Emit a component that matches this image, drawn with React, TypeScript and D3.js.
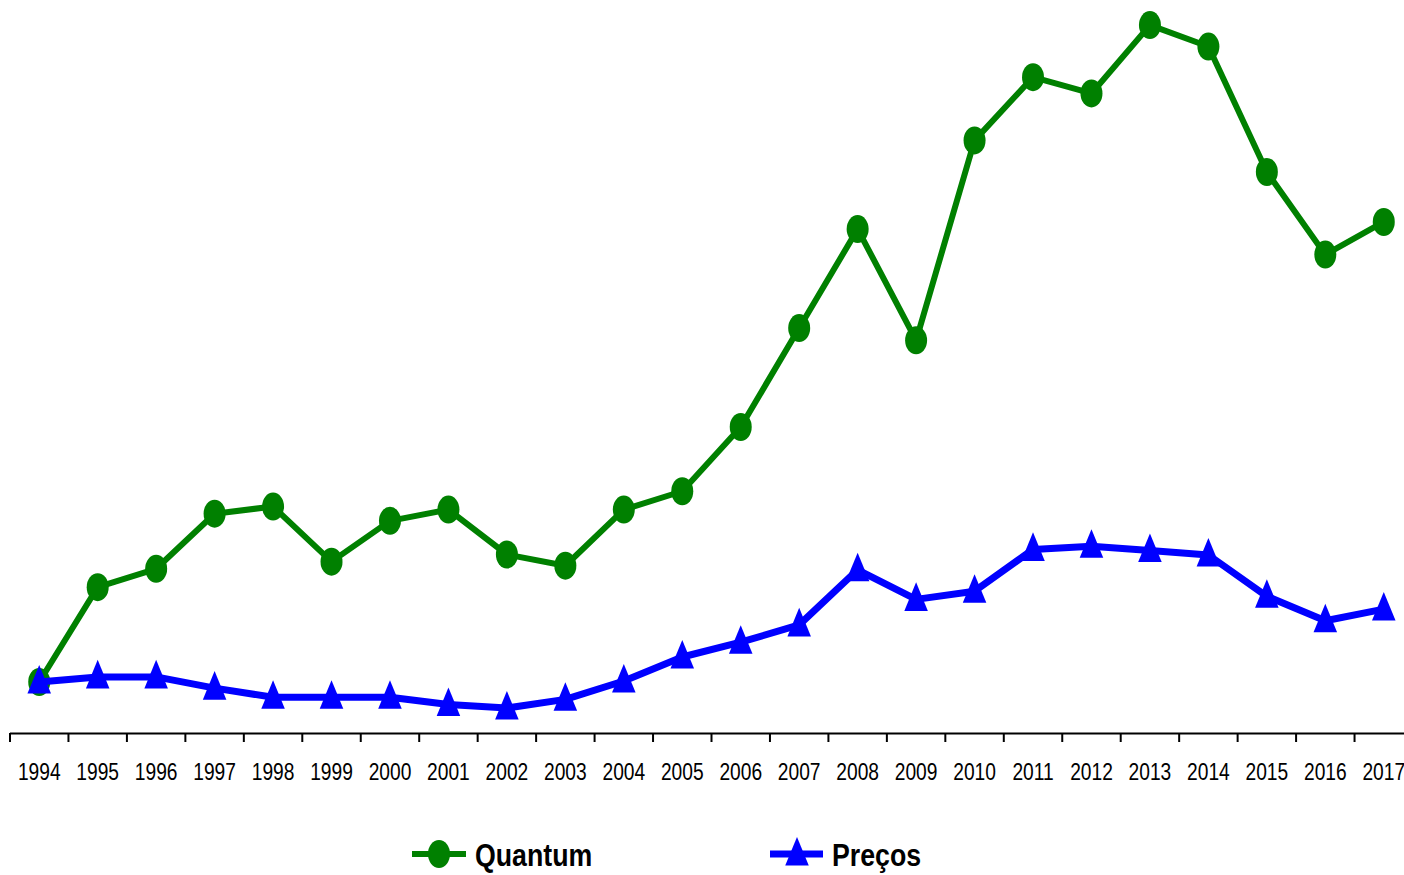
import React from "react";
import * as d3 from "d3";

// Annual index series (1994 = 100)
const years: string[] = [
  "1994", "1995", "1996", "1997", "1998", "1999", "2000", "2001",
  "2002", "2003", "2004", "2005", "2006", "2007", "2008", "2009",
  "2010", "2011", "2012", "2013", "2014", "2015", "2016", "2017",
];

const quantum: number[] = [
  100, 193, 211, 265, 272, 218, 258, 269, 225, 214, 269, 287,
  350, 447, 544, 435, 631, 693, 677, 744, 723, 600, 519, 551,
];

const precos: number[] = [
  100, 105, 105, 94, 85, 85, 85, 78, 74.5, 83, 101, 124.5,
  139, 156, 210, 181, 189, 230, 233, 229, 224.5, 184, 160, 171.5,
];

const W = 1404;
const H = 875;
const FONT = "'Liberation Sans', Arial, sans-serif";
const GREEN = "#008000";
const BLUE = "#0000FF";

export default function App() {
  const x = d3.scaleBand<string>().domain(years).range([10, 1413]).padding(0);
  const y = d3.scaleLinear().domain([50, 750]).range([733, 19]);
  const cx = (yr: string) => (x(yr) ?? 0) + x.bandwidth() / 2;

  const line = d3
    .line<number>()
    .x((_, i) => cx(years[i]))
    .y((v) => y(v));

  const tri = d3.symbol().type(d3.symbolTriangle).size(240)();

  return (
    <div style={{ position: "fixed", left: 0, top: 0, width: W, height: H, overflow: "hidden" }}>
      <svg width={W} height={H} style={{ display: "block", background: "#fff" }}>
        {/* category axis */}
        <line x1={10} x2={W} y1={733.5} y2={733.5} stroke="#000" strokeWidth={2} />
        {years.map((yr) => (
          <line
            key={"t" + yr}
            x1={x(yr) ?? 0}
            x2={x(yr) ?? 0}
            y1={733}
            y2={742}
            stroke="#000"
            strokeWidth={2}
          />
        ))}
        {years.map((yr) => (
          <text
            key={"l" + yr}
            transform={`translate(${cx(yr)},780) scale(0.8,1.03)`}
            textAnchor="middle"
            fontFamily={FONT}
            fontSize={24}
            fill="#000"
          >
            {yr}
          </text>
        ))}

        {/* Quantum series */}
        <path d={line(quantum) ?? ""} fill="none" stroke={GREEN} strokeWidth={6} strokeLinejoin="round" />
        {quantum.map((v, i) => (
          <ellipse key={"q" + i} cx={cx(years[i])} cy={y(v)} rx={11} ry={14} fill={GREEN} />
        ))}

        {/* Preços series */}
        <path d={line(precos) ?? ""} fill="none" stroke={BLUE} strokeWidth={7} strokeLinejoin="round" />
        {precos.map((v, i) => (
          <path
            key={"p" + i}
            d={tri ?? ""}
            transform={`translate(${cx(years[i])},${y(v) + 2}) scale(1,1.4)`}
            fill={BLUE}
          />
        ))}

        {/* legend */}
        <g>
          <line x1={412} x2={466} y1={854} y2={854} stroke={GREEN} strokeWidth={6} />
          <ellipse cx={439} cy={854} rx={11} ry={14} fill={GREEN} />
          <text
            transform="translate(475,866) scale(0.835,1)"
            fontFamily={FONT}
            fontSize={32}
            fontWeight="bold"
            fill="#000"
          >
            Quantum
          </text>
          <line x1={770} x2={823} y1={854} y2={854} stroke={BLUE} strokeWidth={7} />
          <path d={tri ?? ""} transform="translate(797,856) scale(1,1.4)" fill={BLUE} />
          <text
            transform="translate(832,866) scale(0.835,1)"
            fontFamily={FONT}
            fontSize={32}
            fontWeight="bold"
            fill="#000"
          >
            Preços
          </text>
        </g>
      </svg>
    </div>
  );
}
